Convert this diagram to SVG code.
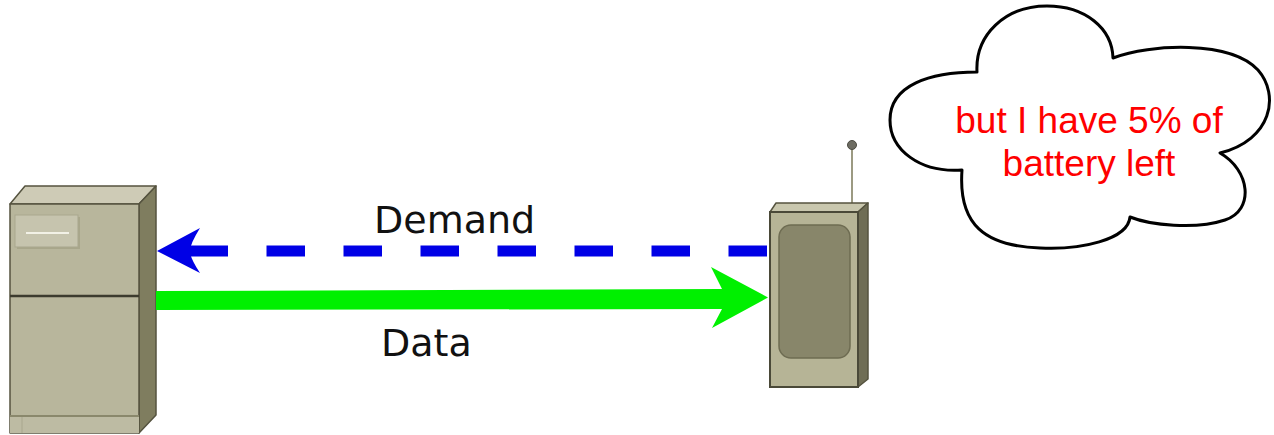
<svg xmlns="http://www.w3.org/2000/svg" width="1274" height="435" viewBox="0 0 1274 435">
  <style>
    .label { font-family: "DejaVu Sans", sans-serif; font-size: 38px; fill: #111111; }
    .thought { font-family: "Liberation Sans", Arial, sans-serif; font-size: 37px; fill: #ff0000; text-anchor: middle; }
    .edge { stroke: #55533f; stroke-width: 1.5; stroke-linejoin: round; }
  </style>
  <rect width="1274" height="435" fill="#ffffff"/>

  <!-- server cabinet -->
  <g id="server">
    <polygon class="edge" points="10,204 25,186 156,186 139,204" fill="#cecbb6"/>
    <polygon class="edge" points="139,204 156,186 156,415 139,433" fill="#7f7d5f"/>
    <rect class="edge" x="10" y="204" width="129" height="229" fill="#b8b69c"/>
    <rect x="17" y="217" width="63" height="32" fill="#9d9b80" opacity="0.6"/>
    <rect x="15" y="215" width="63" height="32" fill="#c6c4ae" stroke="#a9a78e" stroke-width="1"/>
    <line x1="26" y1="233" x2="69" y2="233" stroke="#f2f1e6" stroke-width="2"/>
    <line x1="10" y1="296" x2="139" y2="296" stroke="#3c3b2e" stroke-width="2.5"/>
    <line x1="10" y1="416" x2="139" y2="416" stroke="#8a886c" stroke-width="2"/>
    <rect x="10" y="417" width="129" height="16" fill="#bdbba3"/>
    <line x1="22" y1="417" x2="22" y2="433" stroke="#a9a78e" stroke-width="1"/>
  </g>

  <!-- handheld device -->
  <g id="device">
    <line x1="852" y1="148" x2="852" y2="204" stroke="#9c9a82" stroke-width="2"/>
    <circle cx="852" cy="145" r="4.5" fill="#6d6c62" stroke="#4c4b42" stroke-width="1"/>
    <polygon class="edge" points="770,212 776,203 868,203 858,212" fill="#c9c7ae"/>
    <polygon class="edge" points="858,212 868,203 868,379 858,387" fill="#6f6d55"/>
    <rect x="770" y="212" width="88" height="175" fill="#b6b496" stroke="#4a4938" stroke-width="2"/>
    <rect x="779" y="225" width="71" height="133" rx="12" fill="#88866a" stroke="#6e6c52" stroke-width="1.5"/>
  </g>

  <!-- thought cloud -->
  <g id="cloud">
    <path d="M977,72 C975,35 1005,6 1047,6 C1085,6 1112,28 1113,58
             C1150,44 1230,40 1258,70 C1280,95 1272,140 1220,153
             C1250,170 1255,210 1225,220 C1195,230 1150,225 1130,217
             C1128,240 1080,250 1040,248 C985,246 958,225 962,170
             C920,173 890,150 890,120 C890,85 930,72 977,72 Z"
          fill="#ffffff" stroke="#000000" stroke-width="3" stroke-linejoin="round"/>
    <text class="thought" x="1089" y="133">but I have 5% of</text>
    <text class="thought" x="1089" y="176">battery left</text>
  </g>

  <!-- connectors -->
  <g id="connectors">
    <line x1="767" y1="251" x2="190" y2="251" stroke="#0000e6" stroke-width="11" stroke-dasharray="38.5 38.5"/>
    <path d="M157,251 L200,228 Q190,244 190,251 Q190,258 200,273 Z" fill="#0000e6"/>
    <path d="M156,291 L722,289 L711,267 L768,297.5 L712,328 L722,309 L156,310 Z" fill="#00f000"/>
    <text class="label" x="374" y="233">Demand</text>
    <text class="label" x="381" y="356">Data</text>
  </g>
</svg>
